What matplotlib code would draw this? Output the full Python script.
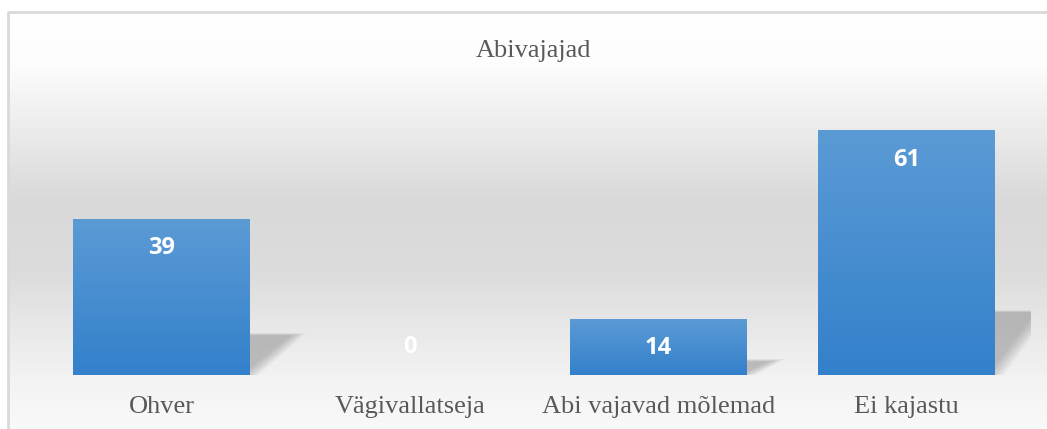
import numpy as np
import matplotlib
matplotlib.use("Agg")
import matplotlib.pyplot as plt
from matplotlib.patches import Polygon
from matplotlib.colors import LinearSegmentedColormap

categories = ["Ohver", "Vägivallatseja", "Abi vajavad mõlemad", "Ei kajastu"]
values = [39, 0, 14, 61]
title = "Abivajajad"

W, H = 1047, 429
fig = plt.figure(figsize=(W / 100, H / 100), dpi=100)

# chart area background: vertical gray gradient inside a light frame
bg = fig.add_axes([0, 0, 1, 1], zorder=0)
bg.set_xlim(0, W)
bg.set_ylim(H, 0)
bg.axis("off")
bg_cmap = LinearSegmentedColormap.from_list(
    "bg", [(0, "#ffffff"), (0.12, "#fdfdfd"), (0.45, "#d9d9d9"),
           (0.62, "#dcdcdc"), (0.88, "#f3f3f3"), (1, "#f9f9f9")])
grad = np.linspace(0, 1, 256).reshape(-1, 1)
bg.imshow(grad, cmap=bg_cmap, extent=(8, W + 2, H + 2, 12), aspect="auto")
bg.plot([8, 8, W + 2], [H + 2, 12, 12], color="#d9d9d9", lw=2)

# plot area: baseline at y=375 px, 4 px per unit
x0, x1 = 37.25, 1030.75
ybot, ytop = 375, 95
ax = fig.add_axes([x0 / W, 1 - ybot / H, (x1 - x0) / W, (ybot - ytop) / H], zorder=1)
ax.patch.set_alpha(0)
ax.set_xlim(-0.5, len(categories) - 0.5)
ax.set_ylim(0, (ybot - ytop) / 4)
ax.axis("off")

bar_cmap = LinearSegmentedColormap.from_list("bar", ["#3380cb", "#5b9bd5"])
width = 0.712
xs = np.arange(len(categories))
lab_kw = dict(textcoords="offset pixels", ha="center", va="center", color="white",
              fontsize=17, fontweight="bold", family="Open Sans", zorder=3)
for x, v in zip(xs, values):
    if v > 0:
        # soft perspective shadow behind the bar, built from fading layers
        sh = v * 0.26
        dx = min(v * 0.0085, 0.19)
        for k in range(12):
            g = -0.03 + k * 0.006
            poly = Polygon([(x - width / 2, 0), (x + width / 2 + g, 0),
                            (x + width / 2 + dx + g, sh + g * 10),
                            (x - width / 2 + dx, sh + g * 10)],
                           closed=True, facecolor="#7a7a7a", edgecolor="none",
                           alpha=0.045, zorder=1)
            ax.add_patch(poly)
        ax.imshow(grad, cmap=bar_cmap, origin="lower",
                  extent=(x - width / 2, x + width / 2, 0, v),
                  aspect="auto", zorder=2)
        ax.annotate(str(v), (x, v), xytext=(0, -29), **lab_kw)
    else:
        ax.annotate(str(v), (x, 0), xytext=(0, 28), **lab_kw)
    ax.annotate(categories[x], (x, 0), xytext=(0, -32), textcoords="offset pixels",
                ha="center", va="center", color="#595959", fontsize=19,
                family="Liberation Serif", annotation_clip=False)
ax.set_xlim(-0.5, len(categories) - 0.5)

fig.text(533 / W, 1 - 51 / H, title, ha="center", va="center",
         color="#595959", fontsize=19, family="Liberation Serif")

fig.savefig("out.png", dpi=100)
